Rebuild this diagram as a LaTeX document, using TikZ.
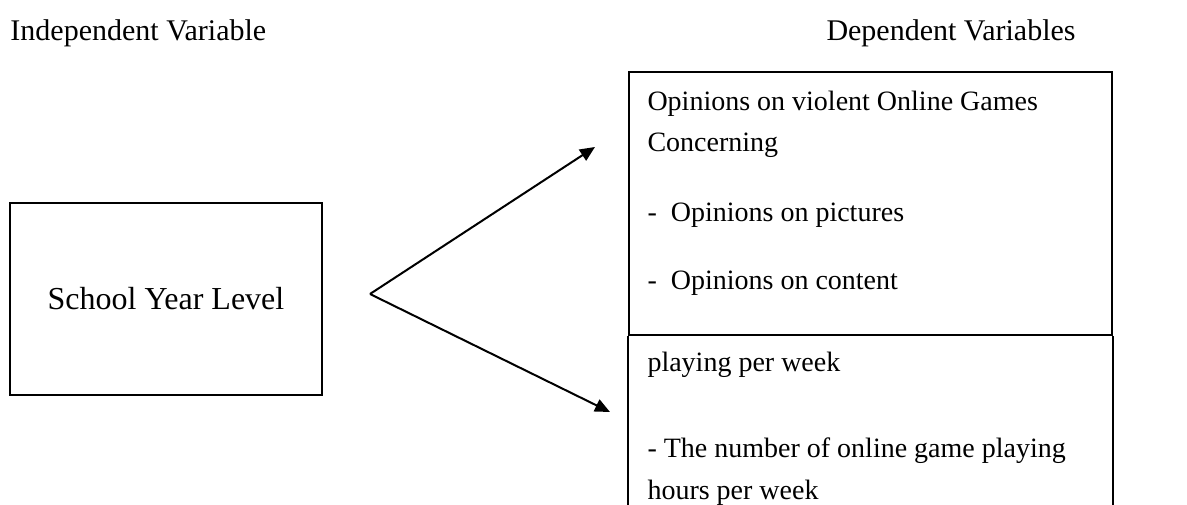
\documentclass[tikz,border=0pt]{standalone}
\usepackage{fontspec}
\setmainfont{Liberation Serif}
\usepackage{tikz}
\usetikzlibrary{arrows.meta,positioning}

\begin{document}
\begin{tikzpicture}[
x=0.4pt, y=-0.4pt,
every node/.style={font=\fontsize{12}{16.4}\selectfont},
frame/.style={draw, line width=0.8pt, inner sep=0pt},
lines/.style={inner sep=0pt, align=left, font=\fontsize{11.2}{16.4}\selectfont},
arr/.style={-{Triangle[length=6pt, width=5.2pt]}, line width=0.8pt}
]
\useasboundingbox (0,0) rectangle (1187,505);
\node[inner sep=0pt, anchor=base west] (iv) at (10,41) {Independent Variable};
\node[inner sep=0pt, anchor=base west] (dv) at (826,41) {Dependent Variables};
\node[frame, minimum width=124.8pt, minimum height=76.8pt, font=\fontsize{12.8}{16.4}\selectfont] (syl) at (166,299) {School Year Level};
\node[frame, minimum width=193.2pt, minimum height=105.2pt, anchor=north west] (opin) at (628,71) {};
% base of a multi-line node = its last line
\node[lines, anchor=base west] (opintxt) at (647,290) {Opinions on violent Online Games\\Concerning\\[11.6pt]-\ \ Opinions on pictures\\[10.8pt]-\ \ Opinions on content};
\node[lines, anchor=base west] (play) at (647,499) {playing per week\\[18pt]- The number of online game playing\\hours per week};
% open lower part of the right box
\coordinate (edge) at (0,505);
\draw[line width=0.8pt] (opin.south west) -- (opin.south west |- edge);
\draw[line width=0.8pt] (opin.south east) -- (opin.south east |- edge);
% arrows
\coordinate (fork) at (370,294);
\coordinate (tipu) at (595,147);
\coordinate (tipd) at (610,412);
\draw[arr] (fork) -- (tipu);
\draw[arr] (fork) -- (tipd);
\end{tikzpicture}
\end{document}
